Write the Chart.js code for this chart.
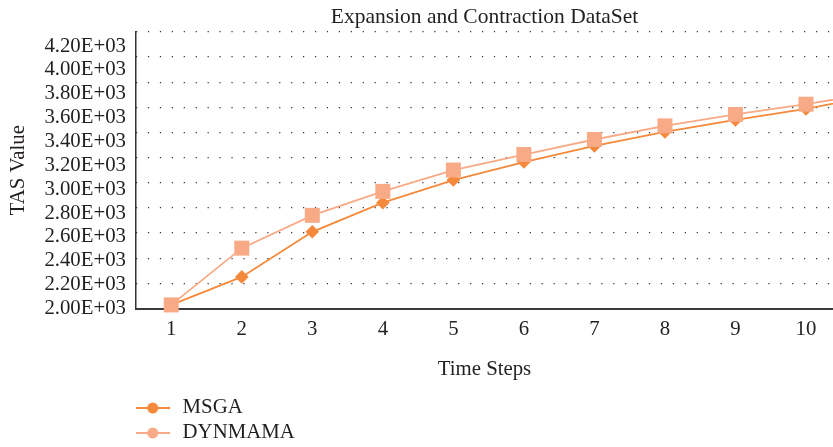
<!DOCTYPE html>
<html>
<head>
<meta charset="utf-8">
<script src="https://cdn.jsdelivr.net/npm/chart.js@4.4.1/dist/chart.umd.min.js"></script>
<style>
html,body{margin:0;padding:0;background:#ffffff;overflow:hidden}
#wrap{position:relative;width:833px;height:447px}
</style>
</head>
<body>
<div id="wrap"><canvas id="c"></canvas></div>
<script>
// ---- data ----
const timeSteps = [1, 2, 3, 4, 5, 6, 7, 8, 9, 10];
const msga    = [2030, 2265, 2643, 2887, 3077, 3228, 3363, 3480, 3581, 3673];
const dynmama = [2030, 2506, 2781, 2982, 3161, 3291, 3417, 3531, 3627, 3713];
// the connecting lines run on past step 10 to the edge of the figure
const nextStep = 11;
const msgaLineNext = 3790;
const dynmamaLineNext = 3810;
const seriesNames = ['MSGA', 'DYNMAMA'];
const yTickValues = [2000, 2200, 2400, 2600, 2800, 3000, 3200, 3400, 3600, 3800, 4000, 4200];
const yTickLabels = ['2.00E+03', '2.20E+03', '2.40E+03', '2.60E+03', '2.80E+03', '3.00E+03',
                     '3.20E+03', '3.40E+03', '3.60E+03', '3.80E+03', '4.00E+03', '4.20E+03'];
const chartTitle = 'Expansion and Contraction DataSet';
const xTitle = 'Time Steps';
const yTitle = 'TAS Value';

// ---- styling ----
const DARK = '#F4893C';
const LIGHT = '#F7AA85';
const TEXT = '#231F20';
const FONT = "'Liberation Serif', 'Times New Roman', serif";
const FS = 20.8;

Chart.defaults.font.family = FONT;
Chart.defaults.font.size = FS;
Chart.defaults.color = TEXT;

function makeSeries(vals, next) {
  return timeSteps.map((t, i) => ({x: t, y: vals[i]})).concat([{x: nextStep, y: next}]);
}
function radii(vals, r) {
  return vals.map(() => r).concat([0]);
}
function legendSymbol(color) {
  const cv = document.createElement('canvas');
  cv.width = 44; cv.height = 14;
  const g = cv.getContext('2d');
  g.strokeStyle = color; g.lineWidth = 2;
  g.beginPath(); g.moveTo(1, 7); g.lineTo(36, 7); g.stroke();
  g.fillStyle = color;
  g.beginPath(); g.arc(18.5, 7, 5.5, 0, Math.PI * 2); g.fill();
  return cv;
}
const symbols = [legendSymbol(DARK), legendSymbol(LIGHT)];
const colors = [DARK, LIGHT];

new Chart(document.getElementById('c'), {
  type: 'line',
  data: {
    datasets: [
      {
        label: seriesNames[0],
        data: makeSeries(msga, msgaLineNext),
        borderColor: DARK,
        backgroundColor: DARK,
        borderWidth: 1.8,
        pointStyle: 'rectRot',
        pointRadius: radii(msga, 6.8),
        pointBackgroundColor: DARK,
        pointBorderWidth: 0,
        tension: 0,
        clip: false,
        order: 2
      },
      {
        label: seriesNames[1],
        data: makeSeries(dynmama, dynmamaLineNext),
        borderColor: LIGHT,
        backgroundColor: LIGHT,
        borderWidth: 1.8,
        pointStyle: 'rect',
        pointRadius: radii(dynmama, 10.6),
        pointBackgroundColor: LIGHT,
        pointBorderWidth: 0,
        tension: 0,
        clip: false,
        order: 1
      }
    ]
  },
  options: {
    responsive: true,
    maintainAspectRatio: false,
    animation: false,
    events: [],
    layout: {padding: 0, autoPadding: false},
    plugins: {
      title: {
        display: true,
        text: chartTitle,
        fullSize: false,
        color: TEXT,
        font: {family: FONT, size: 21.5, weight: 'normal'},
        padding: {top: 4, bottom: 2}
      },
      legend: {
        display: true,
        position: 'bottom',
        align: 'start',
        fullSize: false,
        maxHeight: 53.6,
        labels: {
          font: {family: FONT, size: FS},
          color: TEXT,
          padding: 4.2,
          usePointStyle: true,
          pointStyleWidth: 32,
          generateLabels: () => seriesNames.map((name, i) => ({
            // trailing spaces on the first entry push the second onto its own row
            text: i === 0 ? name + '\u2003'.repeat(45) : name,
            fillStyle: colors[i],
            strokeStyle: colors[i],
            lineWidth: 0,
            pointStyle: symbols[i],
            hidden: false,
            datasetIndex: i,
            fontColor: TEXT
          }))
        }
      },
      tooltip: {enabled: false}
    },
    scales: {
      x: {
        type: 'linear',
        position: 'bottom',
        min: 0.5,
        max: 10.383,
        afterFit: s => { s.height = 84.9; s.paddingLeft = 0; s.paddingRight = 0; },
        grid: {display: false, drawTicks: false},
        border: {display: true, color: '#3A3A3A', width: 2},
        ticks: {
          stepSize: 1,
          includeBounds: false,
          autoSkip: false,
          maxRotation: 0,
          padding: 8.5,
          color: TEXT,
          font: {family: FONT, size: FS},
          callback: v => {
            const i = timeSteps.indexOf(v);
            return i >= 0 ? String(timeSteps[i]) : '';
          }
        },
        title: {
          display: true,
          text: xTitle,
          color: TEXT,
          font: {family: FONT, size: FS},
          padding: {top: 17, bottom: 11}
        }
      },
      y: {
        type: 'linear',
        position: 'left',
        min: 2000,
        max: 4320,
        afterFit: s => { s.width = 136; s.paddingTop = 0; s.paddingBottom = 0; },
        grid: {display: false, drawTicks: false},
        border: {display: true, color: '#333333', width: 1.5},
        ticks: {
          stepSize: 200,
          includeBounds: false,
          autoSkip: false,
          padding: 10,
          color: TEXT,
          font: {family: FONT, size: FS},
          callback: v => {
            const i = yTickValues.indexOf(v);
            return i >= 0 ? yTickLabels[i] : '';
          }
        },
        title: {
          display: true,
          text: yTitle,
          color: TEXT,
          font: {family: FONT, size: FS},
          padding: {top: 6, bottom: 6}
        }
      },
      yGrid: {
        type: 'linear',
        position: 'left',
        min: 2065,
        max: 4291,
        afterFit: s => { s.width = 0; s.paddingTop = 0; s.paddingBottom = 0; },
        grid: {display: true, drawTicks: false, color: '#333333', lineWidth: 1.2},
        border: {display: false, dash: [1.2, 10.73]},
        ticks: {display: false, stepSize: 200, includeBounds: false}
      }
    }
  }
});
</script>
</body>
</html>
